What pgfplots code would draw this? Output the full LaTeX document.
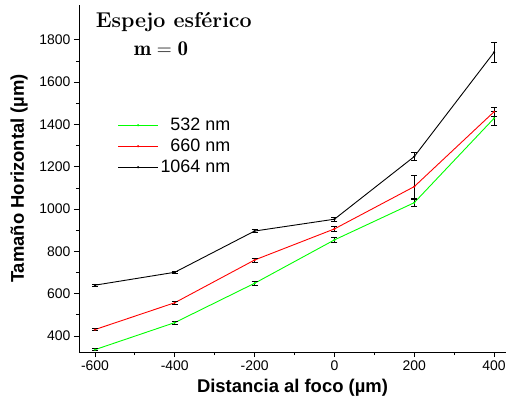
\documentclass[border=0pt]{standalone}
\usepackage{fontspec}
\usepackage{pgfplots}
\pgfplotsset{compat=1.18}
\newfontfamily\arial{Liberation Sans}
\newcommand\ttlfont{\bfseries\fontsize{21.5}{24}\selectfont}
\newcommand\mfont{\bfseries\fontsize{21}{24}\selectfont}
\newcommand\tickfont{\arial\fontsize{14}{16}\selectfont}
\newcommand\labfont{\arial\bfseries\fontsize{18.5}{21}\selectfont}
\newcommand\legfont{\arial\fontsize{18}{20}\selectfont}
\begin{document}
\begin{tikzpicture}
\begin{axis}[
  name=ax,
  scale only axis,
  width=427bp, height=347bp,
  xmin=-640, xmax=430,
  ymin=324, ymax=1965,
  axis x line*=bottom, axis y line*=left,
  axis line style={-, line width=0.9pt},
  xtick={-600,-400,-200,0,200,400},
  ytick={400,600,800,1000,1200,1400,1600,1800},
  minor x tick num=1, minor y tick num=1,
  tick align=outside,
  major tick length=5bp, minor tick length=3bp,
  tick style={black, line width=0.8pt},
  ticklabel style={font=\tickfont},
  /pgf/number format/assume math mode=true,
  /pgf/number format/1000 sep={},
  xlabel={\labfont Distancia al foco (µm)},
  ylabel={\labfont Tamaño Horizontal (µm)},
  xlabel style={yshift=-2bp},
  ylabel style={yshift=5bp},
  legend style={draw=none, fill=none, at={(0.09,0.68)}, anchor=north west,
    font=\legfont, row sep=3bp, inner sep=0pt},
  legend cell align=right,
  legend image code/.code={\draw[mark repeat=2,mark phase=2] plot coordinates {(0bp,0bp)(20bp,0bp)(40bp,0bp)};},
  every axis plot/.append style={line width=0.9pt, mark=*, mark size=0.6pt},
  error bars/error bar style={black, line width=0.7pt},
  error bars/error mark options={black, rotate=90, mark size=3pt, line width=0.7pt},
]
\addplot[color=green, error bars/.cd, y dir=both, y explicit] coordinates {
(-600,335) +- (0,5)
(-400,463) +- (0,6)
(-200,649) +- (0,9)
(0,854) +- (0,12)
(200,1030) +- (0,15)
(400,1429) +- (0,33)
};
\addlegendentry{532 nm}
\addplot[color=red, error bars/.cd, y dir=both, y explicit] coordinates {
(-600,430) +- (0,5)
(-400,557) +- (0,7)
(-200,759) +- (0,9)
(0,906) +- (0,10)
(200,1106) +- (0,55)
(400,1460) +- (0,20)
};
\addlegendentry{660 nm}
\addplot[color=black, error bars/.cd, y dir=both, y explicit] coordinates {
(-600,640) +- (0,4)
(-400,701) +- (0,5)
(-200,896) +- (0,8)
(0,952) +- (0,8)
(200,1248) +- (0,19)
(400,1741) +- (0,47)
};
\addlegendentry{1064 nm}
\node[anchor=west, font=\ttlfont] at (rel axis cs:0.031,0.952) {Espejo esférico};
\node[anchor=west, font=\mfont] at (rel axis cs:0.12,0.875) {$\mathbf{m = 0}$};
\end{axis}
\pgfresetboundingbox
\path[use as bounding box] ([xshift=-79bp,yshift=-48bp]ax.south west) rectangle ([yshift=5bp]ax.north east);
\end{tikzpicture}
\end{document}
